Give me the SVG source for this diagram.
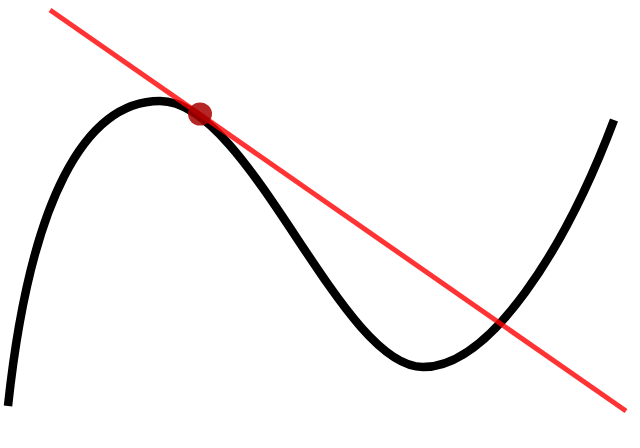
<svg xmlns="http://www.w3.org/2000/svg" width="640" height="448" viewBox="0 0 640 448">
  <style>
    .curve { fill: none; stroke: #000; stroke-width: 8.5; stroke-linecap: butt; }
    .tangent { fill: none; stroke: #ff0000; stroke-opacity: 0.8; stroke-width: 5; }
    .point { fill: #a80000; fill-opacity: 0.85; }
  </style>
  <rect width="640" height="448" fill="#fff"/>
  <g id="curve">
    <path class="curve" d="M8,406 C30,200 85,101 160,101 C250,101 340,367 423,367 C490,367 565,250 614,120"/>
  </g>
  <g id="connectors">
    <line class="tangent" x1="50" y1="10" x2="626" y2="411"/>
  </g>
  <g id="point">
    <ellipse class="point" cx="200" cy="114" rx="12" ry="11.5"/>
  </g>
</svg>
